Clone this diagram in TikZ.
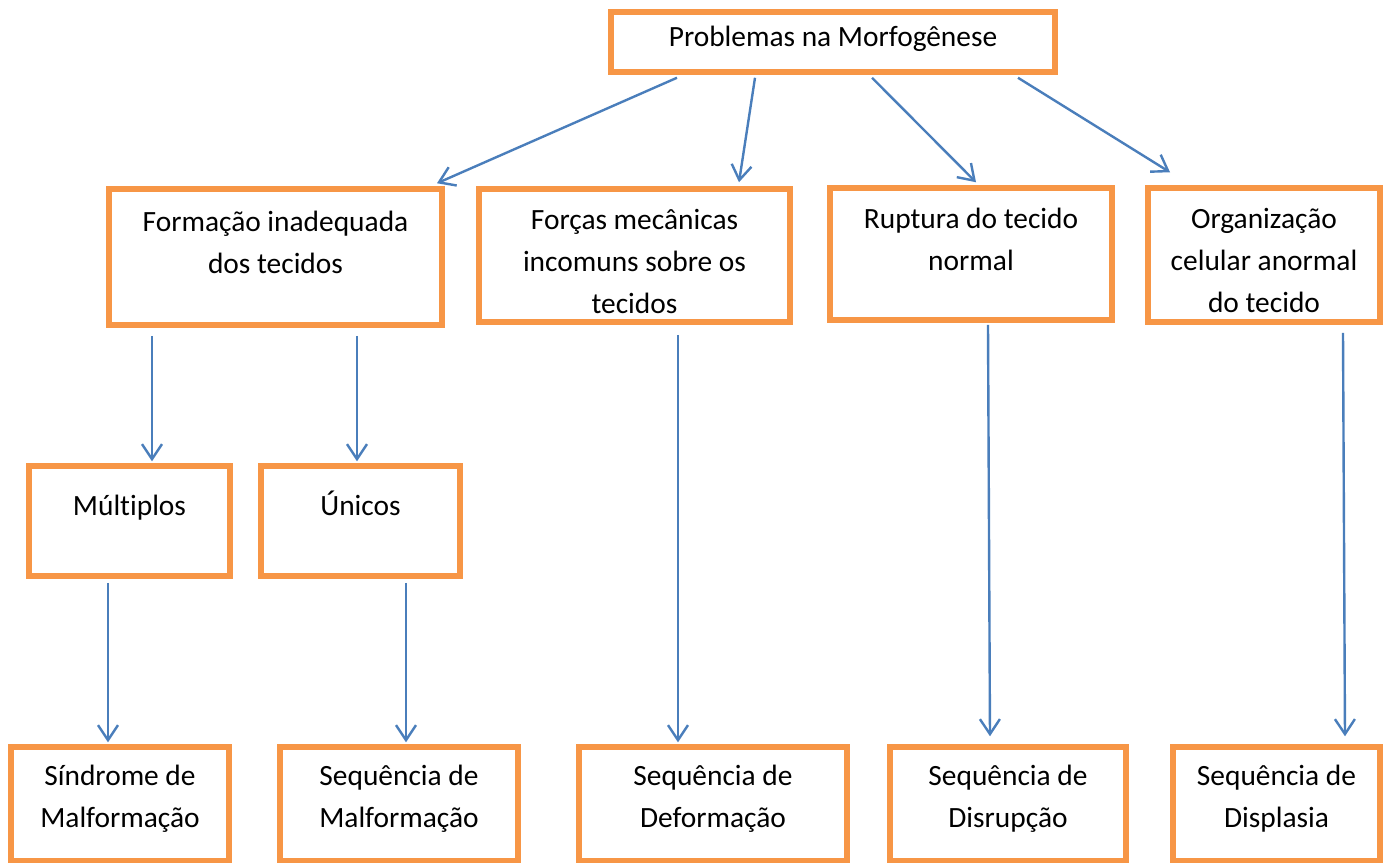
\documentclass[tikz,border=0pt]{standalone}
\usepackage{fontspec}
\setmainfont{Carlito}[RawFeature=-liga]
\usetikzlibrary{arrows.meta}
\definecolor{boxorange}{HTML}{F79646}
\definecolor{linkblue}{HTML}{4A7EBB}
\tikzset{
every picture/.style={
line width=1pt
}}

\begin{document}
\begin{tikzpicture}[
    x=0.5pt, y=-0.5pt,
       box/.style = {draw=boxorange, line width=2.75pt, rectangle, inner sep=0pt},
       lbl/.style = {align=center, anchor=base, inner sep=0pt,
                     font=\fontsize{14.7pt}{21pt}\selectfont},
      conn/.style = {draw=linkblue, line width=1.2pt,
                     -{Straight Barb[length=7.5pt, width=10pt, line width=1.2pt]}}
                    ]
\useasboundingbox (0,0) rectangle (1389,863);
\clip (0,0) rectangle (1389,863);
% top level
\node [box, minimum width=222pt, minimum height=30pt,
       label={[lbl, yshift=-18.5pt]north:Problemas na Morfogênese}]  (top) at (833,42) {};
% second row (base = last line)
\node [box, minimum width=166.5pt, minimum height=68pt,
       label={[lbl, yshift=-43.5pt]north:Formação inadequada\\dos tecidos}]  (form) at (275.5,257) {};
\node [box, minimum width=155.5pt, minimum height=66.5pt,
       label={[lbl, yshift=-63.5pt]north:Forças mecânicas\\incomuns sobre os\\tecidos}]  (forc) at (634.5,255.5) {};
\node [box, minimum width=141pt, minimum height=66pt,
       label={[lbl, yshift=-42.5pt]north:Ruptura do tecido\\normal}]  (rupt) at (971,254) {};
\node [box, minimum width=116pt, minimum height=67pt,
       label={[lbl, yshift=-63.5pt]north:Organização\\celular anormal\\do tecido}]  (orga) at (1264,255) {};
% third row
\node [box, minimum width=100.5pt, minimum height=55pt,
       label={[lbl, yshift=-26pt]north:Múltiplos}]  (mult) at (129.5,521) {};
\node [box, minimum width=99.5pt, minimum height=55pt,
       label={[lbl, yshift=-26pt]north:Únicos}]  (unic) at (360.5,521) {};
% bottom row
\node [box, minimum width=109pt, minimum height=57pt,
       label={[lbl, yshift=-41.5pt]north:Síndrome de\\Malformação}]  (sind) at (120,804) {};
\node [box, minimum width=119pt, minimum height=57pt,
       label={[lbl, yshift=-41.5pt]north:Sequência de\\Malformação}]  (sqmal) at (399,804) {};
\node [box, minimum width=134pt, minimum height=57pt,
       label={[lbl, yshift=-41.5pt]north:Sequência de\\Deformação}]  (sqdef) at (713,804) {};
\node [box, minimum width=118pt, minimum height=57pt,
       label={[lbl, yshift=-41.5pt]north:Sequência de\\Disrupção}]  (sqdis) at (1008,804) {};
\node [box, minimum width=103.5pt, minimum height=57pt,
       label={[lbl, yshift=-41.5pt]north:Sequência de\\Displasia}]  (sqdsp) at (1276.5,804) {};
%%
\draw [conn] ([xshift=-78pt,yshift=-1.5pt]top.south) -- ([xshift=80.75pt,yshift=1.5pt]form.north);
\draw [conn] ([xshift=-39pt,yshift=-1.5pt]top.south) -- ([xshift=52.25pt,yshift=2pt]forc.north);
\draw [conn] ([xshift=19.5pt,yshift=-1.5pt]top.south) -- ([xshift=2.5pt,yshift=1.5pt]rupt.north);
\draw [conn] ([xshift=92.5pt,yshift=-1.5pt]top.south) -- ([xshift=-47pt,yshift=6.5pt]orga.north);
\draw [conn] ([xshift=-61.75pt,yshift=-4pt]form.south) -- ([xshift=11.25pt,yshift=1pt]mult.north);
\draw [conn] ([xshift=40.75pt,yshift=-4pt]form.south) -- ([xshift=-1.75pt,yshift=1pt]unic.north);
\draw [conn] ([xshift=21.75pt,yshift=-5pt]forc.south) -- ([xshift=-17.5pt,yshift=1pt]sqdef.north);
\draw [conn] ([xshift=8.5pt,yshift=-1pt]rupt.south) -- ([xshift=-9pt,yshift=4pt]sqdis.north);
\draw [conn] ([xshift=39.5pt,yshift=-4pt]orga.south) -- ([xshift=34.25pt,yshift=4pt]sqdsp.north);
\draw [conn] ([xshift=-10.75pt,yshift=-2pt]mult.south) -- ([xshift=-6pt,yshift=1pt]sind.north);
\draw [conn] ([xshift=22.75pt,yshift=-2pt]unic.south) -- ([xshift=3.5pt,yshift=1pt]sqmal.north);
\end{tikzpicture}
\end{document}
